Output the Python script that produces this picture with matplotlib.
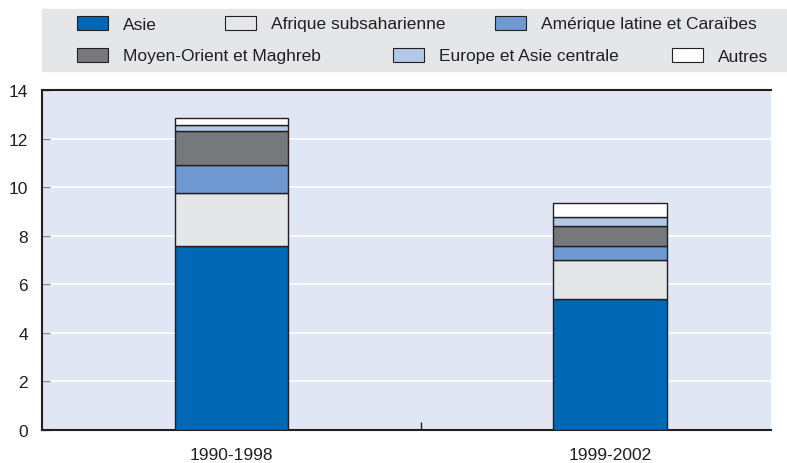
import matplotlib.pyplot as plt
import matplotlib.patches as mpatches
import numpy as np

plt.rcParams['font.family'] = ['Liberation Sans Narrow', 'Liberation Sans', 'DejaVu Sans']

periodes = ["1990-1998", "1999-2002"]
regions = ["Asie", "Afrique subsaharienne", "Amérique latine et Caraïbes",
           "Moyen-Orient et Maghreb", "Europe et Asie centrale", "Autres"]
asie = [7.57, 5.41]
afrique = [2.17, 1.58]
amerique = [1.16, 0.57]
moyen_orient = [1.41, 0.83]
europe = [0.26, 0.37]
autres = [0.26, 0.57]
series = [asie, afrique, amerique, moyen_orient, europe, autres]
couleurs = ["#0068b4", "#e5e6e8", "#6f99d0", "#77787b", "#b3c7e7", "#ffffff"]

fig = plt.figure(figsize=(7.87, 4.64), dpi=100)
ax = fig.add_axes([42/787, 1-431/464, (771-42)/787, (431-91)/464])
ax.set_facecolor("#e0e6f4")

x = np.arange(len(periodes))
bas = np.zeros(len(periodes))
for vals, c in zip(series, couleurs):
    ax.bar(x, vals, 0.3, bottom=bas, color=c, edgecolor="#231f20", linewidth=1, zorder=3)
    bas += np.array(vals)

ax.set_xlim(-0.5, 1.425)
ax.set_ylim(0, 14)
ax.set_yticks(range(0, 15, 2))
ax.yaxis.grid(True, color="white", linewidth=1.2, zorder=0)
ax.set_xticks(x)
ax.set_xticklabels(periodes)
ax.set_xticks([0.5], minor=True)
ax.tick_params(axis="x", which="major", length=0, pad=12, labelsize=12.5, colors="#231f20")
ax.tick_params(axis="x", which="minor", direction="in", length=6, width=1, color="#231f20")
ax.tick_params(axis="y", direction="in", length=6, width=1, color="#888888", pad=10,
               labelsize=12.5, labelcolor="#231f20")
for s in ["left", "bottom", "top"]:
    ax.spines[s].set_color("#231f20")
    ax.spines[s].set_linewidth(1.5)
ax.spines["right"].set_visible(False)

# legend drawn by hand on a grey band
fig.patches.append(mpatches.Rectangle((42/787, 1-72/464), 1-42/787, 62/464,
                                      transform=fig.transFigure, color="#e5e6e8", zorder=0))
positions = [(77, 24), (225, 24), (495, 24), (77, 56), (393, 56), (672, 56)]
for (px, py), nom, c in zip(positions, regions, couleurs):
    fig.patches.append(mpatches.Rectangle((px/787, 1-(py+7)/464), 31/787, 14/464,
                                          transform=fig.transFigure, facecolor=c,
                                          edgecolor="#231f20", linewidth=0.8, zorder=2))
    fig.text((px+46)/787, 1-(py+1)/464, nom, fontsize=12.5, va="center", ha="left",
             color="#231f20")

fig.savefig("out.png", dpi=100)
